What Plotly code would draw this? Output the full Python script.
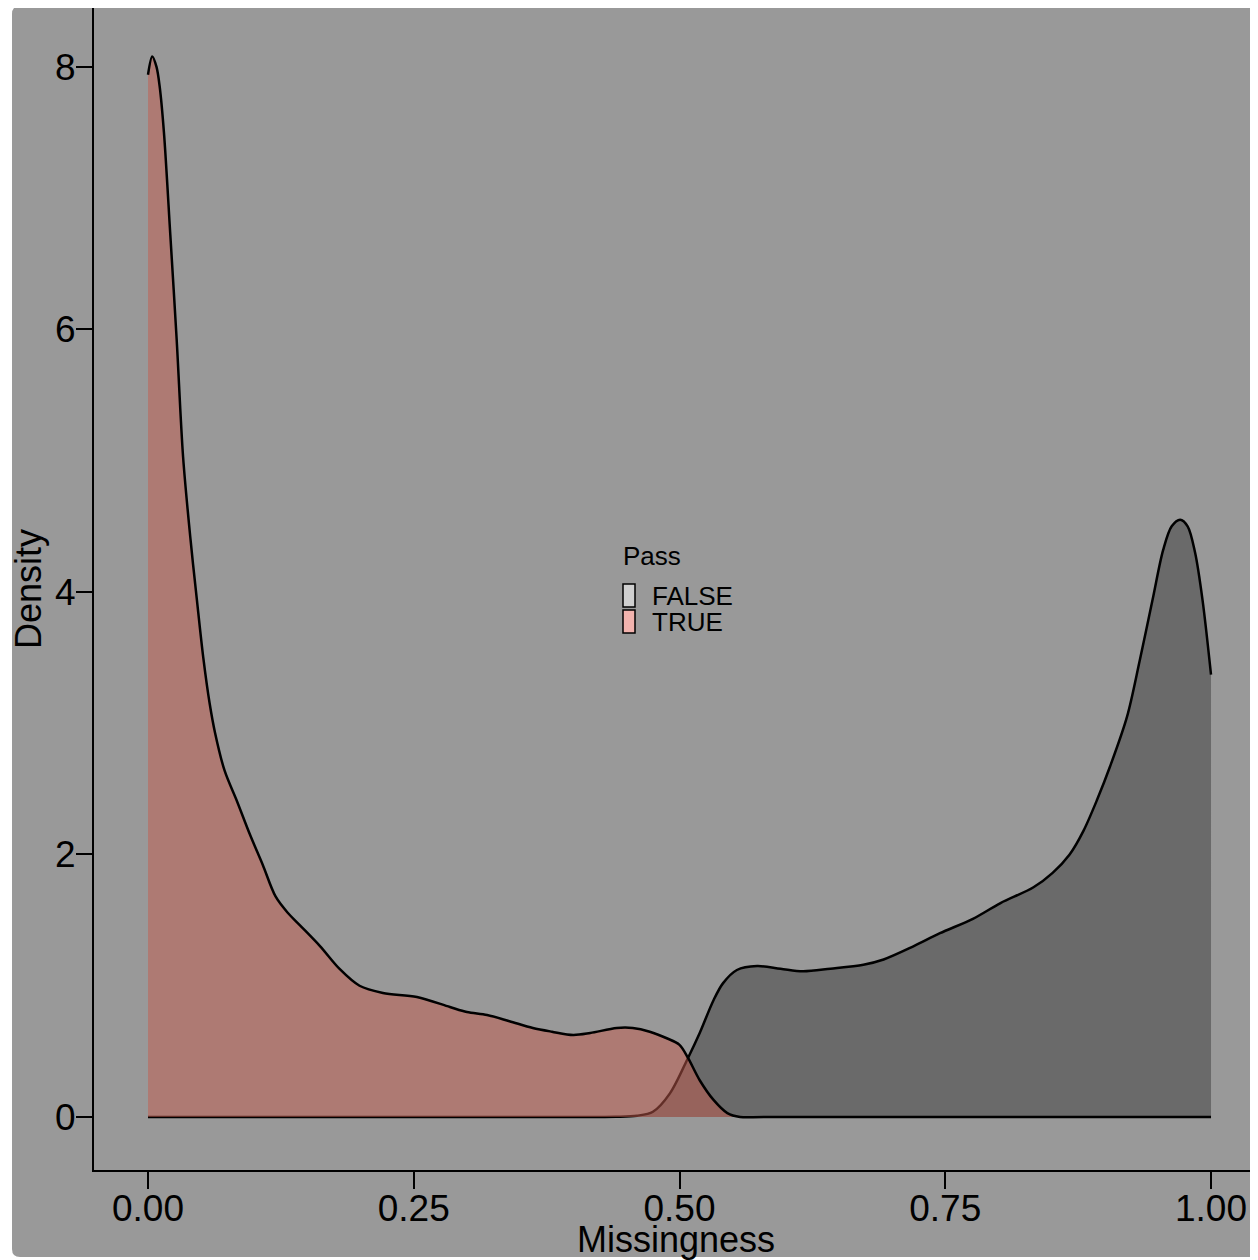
import plotly.graph_objects as go

# ---- data ----
false_x = [0.0, 0.40, 0.44, 0.46, 0.475, 0.491, 0.508, 0.519, 0.532, 0.541, 0.554, 0.573,
           0.595, 0.616, 0.642, 0.673, 0.692, 0.720, 0.745, 0.776, 0.802, 0.833, 0.851,
           0.867, 0.880, 0.893, 0.905, 0.921, 0.933, 0.945, 0.955, 0.963, 0.971, 0.978,
           0.985, 0.992, 1.0]
false_y = [0.0, 0.0, 0.002, 0.01, 0.04, 0.18, 0.45, 0.64, 0.89, 1.02, 1.12, 1.15,
           1.13, 1.11, 1.13, 1.16, 1.20, 1.30, 1.40, 1.51, 1.63, 1.75, 1.86,
           2.00, 2.18, 2.42, 2.67, 3.05, 3.48, 3.94, 4.32, 4.50, 4.55, 4.50,
           4.30, 3.94, 3.37]

true_x = [0.0, 0.004, 0.008, 0.011, 0.015, 0.021, 0.027, 0.033, 0.040, 0.046, 0.052, 0.058,
          0.063, 0.072, 0.084, 0.096, 0.108, 0.120, 0.131, 0.143, 0.162, 0.180, 0.199,
          0.221, 0.253, 0.284, 0.300, 0.319, 0.340, 0.362, 0.380, 0.400, 0.416, 0.441, 0.456,
          0.472, 0.488, 0.500, 0.508, 0.519, 0.532, 0.545, 0.557, 0.58, 1.0]
true_y = [7.94, 8.08, 8.0, 7.85, 7.5, 6.72, 5.92, 5.03, 4.40, 3.94, 3.50, 3.15,
          2.93, 2.64, 2.40, 2.15, 1.92, 1.68, 1.56, 1.46, 1.30, 1.13, 1.00,
          0.945, 0.914, 0.838, 0.80, 0.777, 0.73, 0.678, 0.65, 0.625, 0.64, 0.678, 0.678,
          0.65, 0.60, 0.55, 0.45, 0.28, 0.13, 0.03, 0.0, 0.0, 0.0]

x_ticks = [0.0, 0.25, 0.50, 0.75, 1.00]
x_tick_labels = ["0.00", "0.25", "0.50", "0.75", "1.00"]
y_ticks = [0, 2, 4, 6, 8]
y_tick_labels = ["0", "2", "4", "6", "8"]
legend_title = "Pass"
legend_labels = ["FALSE", "TRUE"]

# ---- figure geometry (page has an 8px body margin) ----
OFF = 8
W, H = 1250, 1252
ML, MR, MT, MB = 86, 0, 0, 90
PW, PH = W - ML - MR, H - MT - MB
FONT = "Liberation Sans, Arial, Helvetica, sans-serif"
BG = "#999999"


def px(xpage):
    return (xpage - OFF - ML) / PW


def py(ypage):
    return (H - MB - (ypage - OFF)) / PH


fig = go.Figure()
fig.add_trace(go.Scatter(
    x=false_x, y=false_y, mode="lines", fill="tozeroy",
    fillcolor="#6a6a6a", line=dict(color="black", width=2.5, shape="spline", smoothing=0.9),
    name="FALSE", showlegend=False, hoverinfo="skip"))
fig.add_trace(go.Scatter(
    x=true_x, y=true_y, mode="lines", fill="tozeroy",
    fillcolor="rgba(196,92,78,0.5)", line=dict(color="black", width=2.5, shape="spline", smoothing=0.9),
    name="TRUE", showlegend=False, hoverinfo="skip"))

shapes = []
# gray rounded background panel
x0, x1 = px(12), px(1262)
y0, y1 = py(1257), py(6)
rx, ry = 8 / PW, 8 / PH
path = (f"M {x0+rx},{y1} L {x1},{y1} L {x1},{y0} L {x0+rx},{y0} "
        f"Q {x0},{y0} {x0},{y0+ry} L {x0},{y1-ry} Q {x0},{y1} {x0+rx},{y1} Z")
shapes.append(dict(type="path", xref="paper", yref="paper", path=path,
                   fillcolor=BG, line=dict(width=0), layer="below"))
# legend keys
key_colors = ["#cfcfcf", "#f2b3ae"]
key_tops = [584, 610]
for c, t in zip(key_colors, key_tops):
    shapes.append(dict(type="rect", xref="paper", yref="paper",
                       x0=px(623), x1=px(635), y0=py(t + 23), y1=py(t),
                       fillcolor=c, line=dict(color="black", width=1.5)))

annotations = [dict(text=legend_title, xref="paper", yref="paper", x=px(621), y=py(556),
                    xanchor="left", yanchor="middle", showarrow=False,
                    font=dict(family=FONT, size=26, color="black"))]
for lab, t in zip(legend_labels, key_tops):
    annotations.append(dict(text=lab, xref="paper", yref="paper", x=px(650), y=py(t + 12),
                            xanchor="left", yanchor="middle", showarrow=False,
                            font=dict(family=FONT, size=26, color="black")))

fig.update_layout(
    width=W, height=H,
    margin=dict(l=ML, r=MR, t=MT, b=MB, autoexpand=False),
    paper_bgcolor="white", plot_bgcolor="rgba(0,0,0,0)",
    font=dict(family=FONT, color="black"),
    shapes=shapes, annotations=annotations, showlegend=False,
    xaxis=dict(range=[-0.0508, 1.0442], tickvals=x_ticks, ticktext=x_tick_labels,
               automargin=False,
               showgrid=False, zeroline=False, showline=True, linecolor="black", linewidth=2,
               ticks="outside", ticklen=17, tickwidth=2, tickcolor="black",
               ticklabelstandoff=-12,
               tickfont=dict(family=FONT, size=37, color="black"),
               title=dict(text="Missingness", font=dict(family=FONT, size=36, color="black"),
                          standoff=12)),
    yaxis=dict(range=[-0.4038, 8.449], tickvals=y_ticks, ticktext=y_tick_labels,
               automargin=False,
               showgrid=False, zeroline=False, showline=True, linecolor="black", linewidth=2,
               ticks="outside", ticklen=16, tickwidth=2, tickcolor="black",
               ticklabelstandoff=-7,
               tickfont=dict(family=FONT, size=37, color="black"),
               title=dict(text="Density", font=dict(family=FONT, size=36, color="black"),
                          standoff=15)),
)

fig.write_html("out.html")
